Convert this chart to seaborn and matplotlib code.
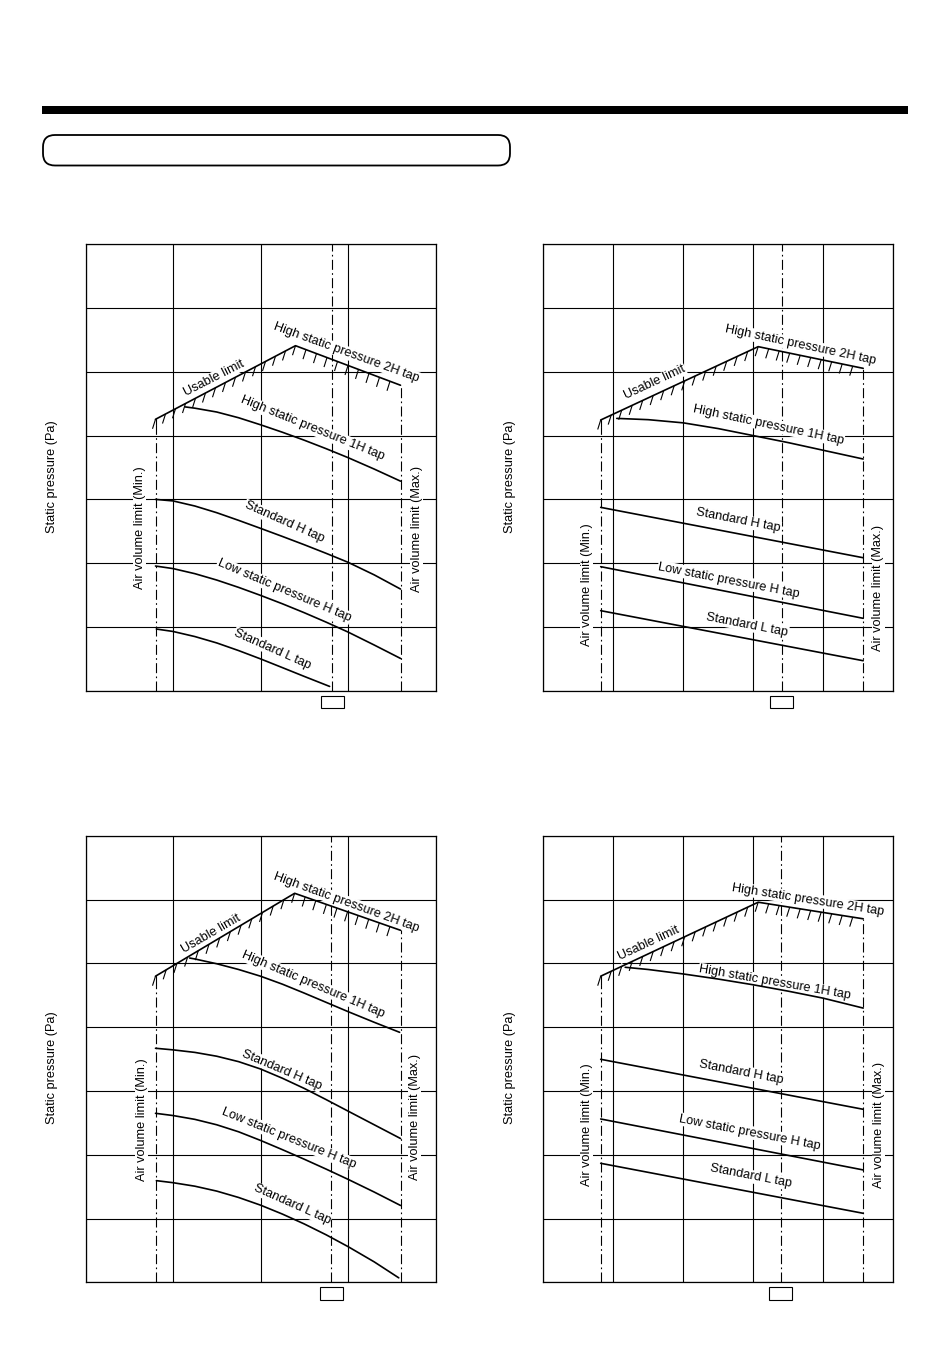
import matplotlib
matplotlib.use("Agg")
import matplotlib.pyplot as plt
import matplotlib.patches as mpatches
import matplotlib.transforms as mtrans
from matplotlib.collections import LineCollection
import seaborn as sns
import pandas as pd

sns.set_theme(style="white")
plt.rcParams["font.family"] = ["Liberation Sans", "DejaVu Sans"]

# ---------------- data (x in grid columns, y in grid rows) ----------------
tap_names = ["High static pressure 1H tap", "Standard H tap",
             "Low static pressure H tap", "Standard L tap"]
tap_2h = "High static pressure 2H tap"
usable_name = "Usable limit"
min_name = "Air volume limit (Min.)"
max_name = "Air volume limit (Max.)"
y_name = "Static pressure (Pa)"

# top-left chart
a_limits = [0.80, 3.60]
a_center = 2.82
a_min_top = 4.17
a_usable_x = [0.80, 2.40, 3.60]
a_usable_y = [4.256, 5.41, 4.79]
a_1h_x = [1.14, 1.25, 1.5, 1.75, 2.0, 2.25, 2.5, 2.75, 3.0, 3.3, 3.6]
a_1h_y = [4.45, 4.43, 4.37, 4.28, 4.17, 4.053, 3.928, 3.795, 3.655, 3.475, 3.286]
a_sh_x = [0.80, 1.0, 1.25, 1.5, 1.75, 2.0, 2.25, 2.5, 2.75, 3.0, 3.3, 3.6]
a_sh_y = [3.00, 2.976, 2.896, 2.791, 2.671, 2.546, 2.419, 2.289, 2.154, 2.014, 1.816, 1.594]
a_lh_x = [0.80, 1.0, 1.25, 1.5, 1.75, 2.0, 2.25, 2.5, 2.75, 3.0, 3.3, 3.6]
a_lh_y = [1.955, 1.915, 1.835, 1.735, 1.62, 1.495, 1.363, 1.223, 1.075, 0.92, 0.716, 0.506]
a_sl_x = [0.81, 1.0, 1.25, 1.5, 1.75, 2.0, 2.25, 2.5, 2.79]
a_sl_y = [0.967, 0.929, 0.849, 0.749, 0.629, 0.499, 0.362, 0.224, 0.067]

# top-right chart
b_limits = [0.82, 4.57]
b_center = 3.405
b_min_top = 4.14
b_usable_x = [0.82, 3.07, 4.57]
b_usable_y = [4.245, 5.395, 5.055]
b_1h_x = [1.05, 1.5, 2.0, 2.5, 3.0, 3.5, 4.0, 4.57]
b_1h_y = [4.27, 4.25, 4.20, 4.11, 4.00, 3.89, 3.77, 3.633]
b_sh_x = [0.82, 4.57]
b_sh_y = [2.875, 2.085]
b_lh_x = [0.82, 4.57]
b_lh_y = [1.945, 1.135]
b_sl_x = [0.82, 4.57]
b_sl_y = [1.255, 0.47]

# bottom-left chart
c_limits = [0.80, 3.61]
c_center = 2.81
c_min_top = 4.65
c_usable_x = [0.80, 2.39, 3.60]
c_usable_y = [4.80, 6.10, 5.52]
c_1h_x = [1.19, 1.25, 1.5, 1.75, 2.0, 2.25, 2.5, 2.75, 3.0, 3.3, 3.59]
c_1h_y = [5.085, 5.07, 4.995, 4.905, 4.80, 4.675, 4.535, 4.39, 4.245, 4.077, 3.92]
c_sh_x = [0.80, 1.0, 1.25, 1.5, 1.75, 2.0, 2.25, 2.5, 2.75, 3.0, 3.3, 3.6]
c_sh_y = [3.67, 3.645, 3.605, 3.545, 3.46, 3.345, 3.20, 3.04, 2.865, 2.685, 2.47, 2.255]
c_lh_x = [0.80, 1.0, 1.25, 1.5, 1.75, 2.0, 2.25, 2.5, 2.75, 3.0, 3.3, 3.6]
c_lh_y = [2.65, 2.615, 2.555, 2.47, 2.36, 2.225, 2.08, 1.93, 1.775, 1.615, 1.415, 1.205]
c_sl_x = [0.81, 1.0, 1.25, 1.5, 1.75, 2.0, 2.25, 2.5, 2.75, 3.0, 3.3, 3.58]
c_sl_y = [1.594, 1.562, 1.507, 1.43, 1.33, 1.21, 1.07, 0.915, 0.745, 0.56, 0.32, 0.07]

# bottom-right chart
d_limits = [0.82, 4.57]
d_center = 3.395
d_min_top = 4.66
d_usable_x = [0.82, 3.07, 4.57]
d_usable_y = [4.80, 5.96, 5.70]
d_1h_x = [1.17, 1.5, 2.0, 2.5, 3.0, 3.5, 4.0, 4.57]
d_1h_y = [4.94, 4.905, 4.835, 4.755, 4.665, 4.565, 4.455, 4.30]
d_sh_x = [0.82, 4.57]
d_sh_y = [3.497, 2.713]
d_lh_x = [0.82, 4.57]
d_lh_y = [2.561, 1.762]
d_sl_x = [0.82, 4.57]
d_sl_y = [1.866, 1.082]

# ---------------- layout ----------------
W, H = 950, 1370
AX_W, AX_H = 350, 446.4
NROWS = 7

panels = [
    dict(left=85.5, bottom=690.7, ncols=4, limits=a_limits, center=a_center,
         min_top=a_min_top, usable=(a_usable_x, a_usable_y),
         taps=[(a_1h_x, a_1h_y), (a_sh_x, a_sh_y), (a_lh_x, a_lh_y), (a_sl_x, a_sl_y)],
         lab_usable=(1.47, 4.90, 27), lab_2h=(2.98, 5.30, -20),
         lab_taps=[(2.60, 4.11, -22), (2.27, 2.64, -24), (2.27, 1.57, -23), (2.14, 0.65, -24)],
         lab_min=(0.62, 2.55), lab_max=(3.785, 2.54)),
    dict(left=543.3, bottom=690.7, ncols=5, limits=b_limits, center=b_center,
         min_top=b_min_top, usable=(b_usable_x, b_usable_y),
         taps=[(b_1h_x, b_1h_y), (b_sh_x, b_sh_y), (b_lh_x, b_lh_y), (b_sl_x, b_sl_y)],
         lab_usable=(1.595, 4.83, 25), lab_2h=(3.676, 5.42, -12),
         lab_taps=[(3.214, 4.17, -12), (2.786, 2.67, -11), (2.652, 1.73, -11), (2.914, 1.035, -11)],
         lab_min=(0.619, 1.66), lab_max=(4.786, 1.61)),
    dict(left=85.5, bottom=1282.3, ncols=4, limits=c_limits, center=c_center,
         min_top=c_min_top, usable=(c_usable_x, c_usable_y),
         taps=[(c_1h_x, c_1h_y), (c_sh_x, c_sh_y), (c_lh_x, c_lh_y), (c_sl_x, c_sl_y)],
         lab_usable=(1.44, 5.46, 30), lab_2h=(2.976, 5.96, -20),
         lab_taps=[(2.60, 4.67, -23), (2.24, 3.33, -23), (2.325, 2.26, -22), (2.36, 1.22, -24)],
         lab_min=(0.643, 2.55), lab_max=(3.764, 2.59)),
    dict(left=543.3, bottom=1282.3, ncols=5, limits=d_limits, center=d_center,
         min_top=d_min_top, usable=(d_usable_x, d_usable_y),
         taps=[(d_1h_x, d_1h_y), (d_sh_x, d_sh_y), (d_lh_x, d_lh_y), (d_sl_x, d_sl_y)],
         lab_usable=(1.51, 5.31, 25), lab_2h=(3.786, 6.0, -9),
         lab_taps=[(3.31, 4.70, -10), (2.82, 3.30, -11), (2.95, 2.35, -11), (2.96, 1.66, -11)],
         lab_min=(0.62, 2.47), lab_max=(4.79, 2.46)),
]

FS = 9.2
DASHDOT = (0, (9, 3, 1.5, 3))

fig = plt.figure(figsize=(W / 100, H / 100), dpi=100)
px = mtrans.IdentityTransform()

# header bar and empty rounded title box
fig.add_artist(mpatches.Rectangle((42, H - 114), 866, 8, transform=px,
                                  facecolor="black", edgecolor="none"))
fig.add_artist(mpatches.FancyBboxPatch((43, H - 165.5), 467, 30.5, transform=px,
                                       boxstyle="round,pad=0,rounding_size=12",
                                       facecolor="white", edgecolor="black", lw=1.3))


def label(ax, x, y, s, rot):
    ax.text(x, y, s, rotation=rot, rotation_mode="anchor", ha="center", va="center",
            fontsize=FS, color="black", zorder=2,
            bbox=dict(facecolor="white", edgecolor="none", pad=0.5))


for p in panels:
    ncols = p["ncols"]
    xs = AX_W / ncols          # pixels per column
    ys = AX_H / NROWS          # pixels per row
    ax = fig.add_axes([p["left"] / W, (H - p["bottom"]) / H, AX_W / W, AX_H / H])
    ax.set_xlim(0, ncols)
    ax.set_ylim(0, NROWS)
    ax.set_xticks(range(ncols + 1))
    ax.set_yticks(range(NROWS + 1))
    ax.tick_params(length=0, labelbottom=False, labelleft=False)
    ax.grid(True, color="black", lw=0.8)
    ax.set_axisbelow(True)
    for sp in ax.spines.values():
        sp.set_color("black")
        sp.set_linewidth(0.9)

    # air volume limits and centre line
    lo, hi = p["limits"]
    ux, uy = p["usable"]
    ax.plot([lo, lo], [0, p["min_top"]], color="black", lw=0.8, linestyle=DASHDOT, zorder=1.5)
    ax.plot([lo, lo], [p["min_top"], uy[0]], color="black", lw=0.8, zorder=1.5)
    ax.plot([hi, hi], [0, uy[-1]], color="black", lw=0.8, linestyle=DASHDOT, zorder=1.5)
    ax.plot([p["center"]] * 2, [0, NROWS], color="black", lw=0.8, linestyle=DASHDOT, zorder=1.5)

    # usable limit with hatching
    sns.lineplot(x=ux, y=uy, ax=ax, color="black", lw=1.2, sort=False,
                 estimator=None, zorder=3)
    segs = []
    for i in range(len(ux) - 1):
        n = int((ux[i + 1] - ux[i]) * xs / 10)
        for k in range(n):
            t = k / n
            hx = ux[i] + t * (ux[i + 1] - ux[i])
            hy = uy[i] + t * (uy[i + 1] - uy[i])
            segs.append([(hx, hy), (hx - 3 / xs, hy - 9.5 / ys)])
    ax.add_collection(LineCollection(segs, colors="black", linewidths=0.8, zorder=3))

    # fan taps
    for tx, ty in p["taps"]:
        df = pd.DataFrame({"x": tx, "y": ty})
        sns.lineplot(data=df, x="x", y="y", ax=ax, color="black", lw=1.2,
                     sort=False, estimator=None, zorder=3)
    ax.set_xlabel("")
    ax.set_ylabel("")

    # texts
    label(ax, *p["lab_usable"][:2], usable_name, p["lab_usable"][2])
    label(ax, *p["lab_2h"][:2], tap_2h, p["lab_2h"][2])
    for name, (lx, ly, rot) in zip(tap_names, p["lab_taps"]):
        label(ax, lx, ly, name, rot)
    label(ax, *p["lab_min"], min_name, 90)
    label(ax, *p["lab_max"], max_name, 90)
    ax.text(-33 / AX_W, 0.48, y_name, transform=ax.transAxes, rotation=90,
            ha="center", va="center", fontsize=FS, color="black", clip_on=False)

    # small empty box under the centre line
    tr = mtrans.blended_transform_factory(ax.transData, ax.transAxes)
    bw = 23 / xs
    ax.add_patch(mpatches.Rectangle((p["center"] - bw / 2, -17.6 / AX_H), bw, 12.6 / AX_H,
                                    transform=tr, facecolor="white", edgecolor="black",
                                    lw=0.8, clip_on=False))

fig.savefig("out.png", dpi=100, facecolor="white")
